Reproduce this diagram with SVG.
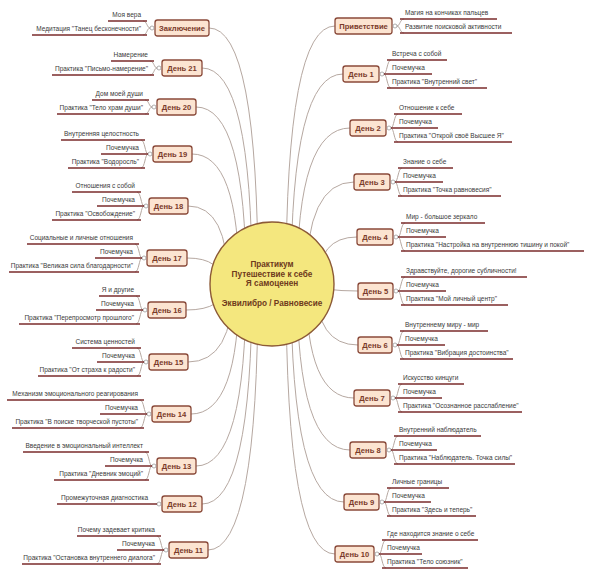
<svg xmlns="http://www.w3.org/2000/svg" width="591" height="574" viewBox="0 0 591 574">
<style>
.conn{fill:none;stroke:#b6a8a1;stroke-width:1}
.br{fill:none;stroke:#b6a8a1;stroke-width:1}
.box{fill:#fce4d1;stroke:#8a4a3a;stroke-width:1.3}
.nt{font-family:"Liberation Sans",Arial,sans-serif;font-size:7.6px;font-weight:bold;fill:#7a3a2a;text-anchor:middle}
.ct{font-family:"Liberation Sans",Arial,sans-serif;font-size:8.2px;font-weight:bold;fill:#6e3a1c;text-anchor:middle}
.lt{font-family:"Liberation Sans",Arial,sans-serif;font-size:6.5px;fill:#3a3a3a}
.le{text-anchor:end}
.ul{fill:none;stroke:#7b2d2d;stroke-width:1.5}
.dot{fill:#fff;stroke:#9a9a9a;stroke-width:0.8}
</style>
<rect width="591" height="574" fill="#fff"/>
<g id="connectors">
<path class="conn" d="M286,284 Q286,26 335,26"/>
<path class="conn" d="M291,284 Q291,74 343,74"/>
<path class="conn" d="M297,284 Q297,128 350,128"/>
<path class="conn" d="M306,284 Q306,182 354,182"/>
<path class="conn" d="M318,284 Q318,237 357,237"/>
<path class="conn" d="M300,284 Q325,291 358,291"/>
<path class="conn" d="M316,284 Q316,345 358,345"/>
<path class="conn" d="M306,284 Q306,398 354,398"/>
<path class="conn" d="M297,284 Q297,450 350,450"/>
<path class="conn" d="M291,284 Q291,502 344,502"/>
<path class="conn" d="M286,284 Q286,554 335,554"/>
<path class="conn" d="M258,284 Q258,28 209,28"/>
<path class="conn" d="M252,284 Q252,68 202,68"/>
<path class="conn" d="M246,284 Q246,107 196,107"/>
<path class="conn" d="M239,284 Q239,154 192,154"/>
<path class="conn" d="M228,284 Q228,206 188,206"/>
<path class="conn" d="M222,284 Q222,258 187,258"/>
<path class="conn" d="M225,284 Q225,310 186,310"/>
<path class="conn" d="M233,284 Q233,362 188,362"/>
<path class="conn" d="M239,284 Q239,414 191,414"/>
<path class="conn" d="M246,284 Q246,466 196,466"/>
<path class="conn" d="M252,284 Q252,504 202,504"/>
<path class="conn" d="M258,284 Q258,550 208,550"/>
</g>
<g id="root">
<circle cx="272" cy="284" r="62" fill="#f4e77e" stroke="#8c5a36" stroke-width="1.4"/>
<text class="ct" x="272" y="267">Практикум</text>
<text class="ct" x="272" y="276.5">Путешествие к себе</text>
<text class="ct" x="272" y="286">Я самоценен</text>
<text class="ct" x="272" y="305.5">Эквилибро / Равновесие</text>
</g>

<g id="privet">
<rect class="box" x="335" y="18" width="57" height="16" rx="2.5"/>
<text class="nt" x="363.5" y="28.7">Приветствие</text>
<path class="br" d="M397,26 C400,26 400,19 404,19 M397,26 C400,26 400,33 404,33"/>
<circle class="dot" cx="395" cy="26" r="2"/>
<path class="ul" d="M400,19 H497 M400,33 H512"/>
<text class="lt" x="405" y="15">Магия на кончиках пальцев</text>
<text class="lt" x="405" y="29">Развитие поисковой активности</text>
</g>

<g id="day1">
<rect class="box" x="343" y="66" width="36" height="16" rx="2.5"/>
<text class="nt" x="361" y="76.7">День 1</text>
<path class="br" d="M384,74 C387,74 387,60 391,60 M384,74 C387,74 387,88 391,88"/>
<circle class="dot" cx="382" cy="74" r="2"/>
<path class="ul" d="M387,60 H447 M384,74 H432 M387,88 H487"/>
<text class="lt" x="392" y="56">Встреча с собой</text>
<text class="lt" x="392" y="70">Почемучка</text>
<text class="lt" x="392" y="84">Практика "Внутренний свет"</text>
</g>

<g id="day2">
<rect class="box" x="350" y="120" width="36" height="16" rx="2.5"/>
<text class="nt" x="368" y="130.7">День 2</text>
<path class="br" d="M391,128 C394,128 394,114 398,114 M391,128 C394,128 394,142 398,142"/>
<circle class="dot" cx="389" cy="128" r="2"/>
<path class="ul" d="M394,114 H462 M391,128 H438 M394,142 H512"/>
<text class="lt" x="399" y="110">Отношение к себе</text>
<text class="lt" x="399" y="124">Почемучка</text>
<text class="lt" x="399" y="138">Практика "Открой своё Высшее Я"</text>
</g>

<g id="day3">
<rect class="box" x="354" y="174" width="36" height="16" rx="2.5"/>
<text class="nt" x="372" y="184.7">День 3</text>
<path class="br" d="M395,182 C398,182 398,168 402,168 M395,182 C398,182 398,196 402,196"/>
<circle class="dot" cx="393" cy="182" r="2"/>
<path class="ul" d="M398,168 H453 M395,182 H443 M398,196 H501"/>
<text class="lt" x="403" y="164">Знание о себе</text>
<text class="lt" x="403" y="178">Почемучка</text>
<text class="lt" x="403" y="192">Практика "Точка равновесия"</text>
</g>

<g id="day4">
<rect class="box" x="357" y="229" width="36" height="16" rx="2.5"/>
<text class="nt" x="375" y="239.7">День 4</text>
<path class="br" d="M398,237 C401,237 401,223 405,223 M398,237 C401,237 401,251 405,251"/>
<circle class="dot" cx="396" cy="237" r="2"/>
<path class="ul" d="M401,223 H485 M398,237 H446 M401,251 H584"/>
<text class="lt" x="406" y="219">Мир - большое зеркало</text>
<text class="lt" x="406" y="233">Почемучка</text>
<text class="lt" x="406" y="247">Практика "Настройка на внутреннюю тишину и покой"</text>
</g>

<g id="day5">
<rect class="box" x="358" y="283" width="35" height="16" rx="2.5"/>
<text class="nt" x="375.5" y="293.7">День 5</text>
<path class="br" d="M398,291 C401,291 401,277 405,277 M398,291 C401,291 401,305 405,305"/>
<circle class="dot" cx="396" cy="291" r="2"/>
<path class="ul" d="M401,277 H527 M398,291 H446 M401,305 H508"/>
<text class="lt" x="406" y="273">Здравствуйте, дорогие субличности!</text>
<text class="lt" x="406" y="287">Почемучка</text>
<text class="lt" x="406" y="301">Практика "Мой личный центр"</text>
</g>

<g id="day6">
<rect class="box" x="358" y="337" width="34" height="16" rx="2.5"/>
<text class="nt" x="375" y="347.7">День 6</text>
<path class="br" d="M397,345 C400,345 400,331 404,331 M397,345 C400,345 400,359 404,359"/>
<circle class="dot" cx="395" cy="345" r="2"/>
<path class="ul" d="M400,331 H488 M397,345 H445 M400,359 H513"/>
<text class="lt" x="405" y="327">Внутреннему миру - мир</text>
<text class="lt" x="405" y="341">Почемучка</text>
<text class="lt" x="405" y="355">Практика "Вибрация достоинства"</text>
</g>

<g id="day7">
<rect class="box" x="354" y="390" width="36" height="16" rx="2.5"/>
<text class="nt" x="372" y="400.7">День 7</text>
<path class="br" d="M395,398 C398,398 398,384 402,384 M395,398 C398,398 398,412 402,412"/>
<circle class="dot" cx="393" cy="398" r="2"/>
<path class="ul" d="M398,384 H464 M395,398 H442 M398,412 H522"/>
<text class="lt" x="403" y="380">Искусство кинцуги</text>
<text class="lt" x="403" y="394">Почемучка</text>
<text class="lt" x="403" y="408">Практика "Осознанное расслабление"</text>
</g>

<g id="day8">
<rect class="box" x="350" y="442" width="36" height="16" rx="2.5"/>
<text class="nt" x="368" y="452.7">День 8</text>
<path class="br" d="M391,450 C394,450 394,436 398,436 M391,450 C394,450 394,464 398,464"/>
<circle class="dot" cx="389" cy="450" r="2"/>
<path class="ul" d="M394,436 H481 M391,450 H437 M394,464 H515"/>
<text class="lt" x="399" y="432">Внутренний наблюдатель</text>
<text class="lt" x="399" y="446">Почемучка</text>
<text class="lt" x="399" y="460">Практика "Наблюдатель. Точка силы"</text>
</g>

<g id="day9">
<rect class="box" x="344" y="494" width="35" height="16" rx="2.5"/>
<text class="nt" x="361.5" y="504.7">День 9</text>
<path class="br" d="M384,502 C387,502 387,488 391,488 M384,502 C387,502 387,516 391,516"/>
<circle class="dot" cx="382" cy="502" r="2"/>
<path class="ul" d="M387,488 H449 M384,502 H431 M387,516 H476"/>
<text class="lt" x="392" y="484">Личные границы</text>
<text class="lt" x="392" y="498">Почемучка</text>
<text class="lt" x="392" y="512">Практика "Здесь и теперь"</text>
</g>

<g id="day10">
<rect class="box" x="335" y="546" width="39" height="16" rx="2.5"/>
<text class="nt" x="354.5" y="556.7">День 10</text>
<path class="br" d="M379,554 C382,554 382,540 386,540 M379,554 C382,554 382,568 386,568"/>
<circle class="dot" cx="377" cy="554" r="2"/>
<path class="ul" d="M382,540 H478 M379,554 H422 M382,568 H468"/>
<text class="lt" x="387" y="536">Где находится знание о себе</text>
<text class="lt" x="387" y="550">Почемучка</text>
<text class="lt" x="387" y="564">Практика "Тело союзник"</text>
</g>

<g id="final">
<rect class="box" x="155" y="20" width="54" height="16" rx="2.5"/>
<text class="nt" x="182" y="30.7">Заключение</text>
<path class="br" d="M150,28 C147,28 147,21 143,21 M150,28 C147,28 147,35 143,35"/>
<circle class="dot" cx="152" cy="28" r="2"/>
<path class="ul" d="M108,21 H147 M32,35 H147"/>
<text class="lt le" x="141" y="17">Моя вера</text>
<text class="lt le" x="141" y="31">Медитация "Танец бесконечности"</text>
</g>

<g id="day21">
<rect class="box" x="162" y="60" width="40" height="16" rx="2.5"/>
<text class="nt" x="182" y="70.7">День 21</text>
<path class="br" d="M157,68 C154,68 154,61 150,61 M157,68 C154,68 154,75 150,75"/>
<circle class="dot" cx="159" cy="68" r="2"/>
<path class="ul" d="M111,61 H154 M52,75 H154"/>
<text class="lt le" x="148" y="57">Намерение</text>
<text class="lt le" x="148" y="71">Практика "Письмо-намерение"</text>
</g>

<g id="day20">
<rect class="box" x="157" y="99" width="39" height="16" rx="2.5"/>
<text class="nt" x="176.5" y="109.7">День 20</text>
<path class="br" d="M152,107 C149,107 149,100 145,100 M152,107 C149,107 149,114 145,114"/>
<circle class="dot" cx="154" cy="107" r="2"/>
<path class="ul" d="M92,100 H149 M57,114 H149"/>
<text class="lt le" x="143" y="96">Дом моей души</text>
<text class="lt le" x="143" y="110">Практика "Тело храм души"</text>
</g>

<g id="day19">
<rect class="box" x="153" y="146" width="39" height="16" rx="2.5"/>
<text class="nt" x="172.5" y="156.7">День 19</text>
<path class="br" d="M148,154 C145,154 145,140 141,140 M148,154 C145,154 145,168 141,168"/>
<circle class="dot" cx="150" cy="154" r="2"/>
<path class="ul" d="M61,140 H145 M101,154 H148 M68,168 H145"/>
<text class="lt le" x="139" y="136">Внутренняя целостность</text>
<text class="lt le" x="139" y="150">Почемучка</text>
<text class="lt le" x="139" y="164">Практика "Водоросль"</text>
</g>

<g id="day18">
<rect class="box" x="149" y="198" width="39" height="16" rx="2.5"/>
<text class="nt" x="168.5" y="208.7">День 18</text>
<path class="br" d="M144,206 C141,206 141,192 137,192 M144,206 C141,206 141,220 137,220"/>
<circle class="dot" cx="146" cy="206" r="2"/>
<path class="ul" d="M72,192 H141 M97,206 H144 M52,220 H141"/>
<text class="lt le" x="135" y="188">Отношения с собой</text>
<text class="lt le" x="135" y="202">Почемучка</text>
<text class="lt le" x="135" y="216">Практика "Освобождение"</text>
</g>

<g id="day17">
<rect class="box" x="147" y="250" width="40" height="16" rx="2.5"/>
<text class="nt" x="167" y="260.7">День 17</text>
<path class="br" d="M142,258 C139,258 139,244 135,244 M142,258 C139,258 139,272 135,272"/>
<circle class="dot" cx="144" cy="258" r="2"/>
<path class="ul" d="M27,244 H139 M95,258 H142 M9,272 H139"/>
<text class="lt le" x="133" y="240">Социальные и личные отношения</text>
<text class="lt le" x="133" y="254">Почемучка</text>
<text class="lt le" x="133" y="268">Практика "Великая сила благодарности"</text>
</g>

<g id="day16">
<rect class="box" x="148" y="302" width="38" height="16" rx="2.5"/>
<text class="nt" x="167" y="312.7">День 16</text>
<path class="br" d="M143,310 C140,310 140,296 136,296 M143,310 C140,310 140,324 136,324"/>
<circle class="dot" cx="145" cy="310" r="2"/>
<path class="ul" d="M99,296 H140 M96,310 H143 M19,324 H140"/>
<text class="lt le" x="134" y="292">Я и другие</text>
<text class="lt le" x="134" y="306">Почемучка</text>
<text class="lt le" x="134" y="320">Практика "Перепросмотр прошлого"</text>
</g>

<g id="day15">
<rect class="box" x="149" y="354" width="39" height="16" rx="2.5"/>
<text class="nt" x="168.5" y="364.7">День 15</text>
<path class="br" d="M144,362 C141,362 141,348 137,348 M144,362 C141,362 141,376 137,376"/>
<circle class="dot" cx="146" cy="362" r="2"/>
<path class="ul" d="M72,348 H141 M97,362 H144 M38,376 H141"/>
<text class="lt le" x="135" y="344">Система ценностей</text>
<text class="lt le" x="135" y="358">Почемучка</text>
<text class="lt le" x="135" y="372">Практика "От страха к радости"</text>
</g>

<g id="day14">
<rect class="box" x="152" y="406" width="39" height="16" rx="2.5"/>
<text class="nt" x="171.5" y="416.7">День 14</text>
<path class="br" d="M147,414 C144,414 144,400 140,400 M147,414 C144,414 144,428 140,428"/>
<circle class="dot" cx="149" cy="414" r="2"/>
<path class="ul" d="M7,400 H144 M100,414 H147 M12,428 H144"/>
<text class="lt le" x="138" y="396">Механизм эмоционального реагирования</text>
<text class="lt le" x="138" y="410">Почемучка</text>
<text class="lt le" x="138" y="424">Практика "В поиске творческой пустоты"</text>
</g>

<g id="day13">
<rect class="box" x="157" y="458" width="39" height="16" rx="2.5"/>
<text class="nt" x="176.5" y="468.7">День 13</text>
<path class="br" d="M152,466 C149,466 149,452 145,452 M152,466 C149,466 149,480 145,480"/>
<circle class="dot" cx="154" cy="466" r="2"/>
<path class="ul" d="M23,452 H149 M105,466 H152 M54,480 H149"/>
<text class="lt le" x="143" y="448">Введение в эмоциональный интеллект</text>
<text class="lt le" x="143" y="462">Почемучка</text>
<text class="lt le" x="143" y="476">Практика "Дневник эмоций"</text>
</g>

<g id="day12">
<rect class="box" x="162" y="496" width="40" height="16" rx="2.5"/>
<text class="nt" x="182" y="506.7">День 12</text>
<circle class="dot" cx="159" cy="504" r="2"/>
<path class="ul" d="M57,504 H157"/>
<text class="lt le" x="148" y="500">Промежуточная диагностика</text>
</g>

<g id="day11">
<rect class="box" x="169" y="542" width="39" height="16" rx="2.5"/>
<text class="nt" x="188.5" y="552.7">День 11</text>
<path class="br" d="M164,550 C161,550 161,536 157,536 M164,550 C161,550 161,564 157,564"/>
<circle class="dot" cx="166" cy="550" r="2"/>
<path class="ul" d="M77,536 H161 M117,550 H164 M22,564 H161"/>
<text class="lt le" x="155" y="532">Почему задевает критика</text>
<text class="lt le" x="155" y="546">Почемучка</text>
<text class="lt le" x="155" y="560">Практика "Остановка внутреннего диалога"</text>
</g>
</svg>
